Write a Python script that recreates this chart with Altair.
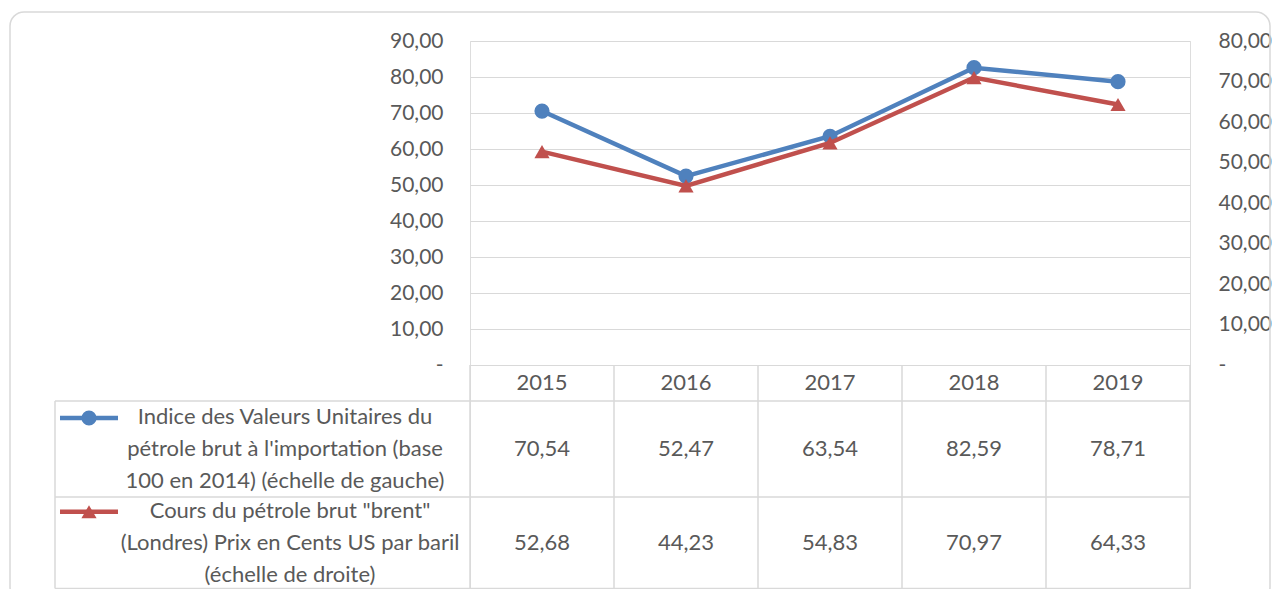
import altair as alt
import pandas as pd

# ---------------- data ----------------
years = ["2015", "2016", "2017", "2018", "2019"]
indice = [70.54, 52.47, 63.54, 82.59, 78.71]
brent = [52.68, 44.23, 54.83, 70.97, 64.33]
label_indice = ["Indice des Valeurs Unitaires du",
                "pétrole brut à l'importation (base",
                "100 en 2014) (échelle de gauche)"]
label_brent = ["Cours du pétrole brut \"brent\"",
               "(Londres) Prix en Cents US par baril",
               "(échelle de droite)"]
left_ticks = [0, 10, 20, 30, 40, 50, 60, 70, 80, 90]
right_ticks = [0, 10, 20, 30, 40, 50, 60, 70, 80]

# ---------------- style ----------------
FONT = "Lato"
FS = 22
AFS = 21
TXT = "#595959"
GRID = "#d9d9d9"
BLUE = "#4F81BD"
RED = "#C0504D"

W, H = 720, 548          # plot area (lines + data table)
ZERO = 324               # pixel row of the value 0 inside the plot
R1, R2, BOT = 360, 456, H - 0.5   # table row borders
LH = 32

fmt = lambda v: f"{v:.2f}".replace(".", ",")
df = pd.DataFrame({"year": years, "indice": indice, "brent": brent,
                   "t_indice": [fmt(v) for v in indice],
                   "t_brent": [fmt(v) for v in brent]})

xscale = alt.Scale(type="band", domain=years, paddingInner=0, paddingOuter=0)
X = alt.X("year:N", scale=xscale, axis=None, bandPosition=0.5)

left_min = -(H - ZERO) / (ZERO / 90)
right_min = -(H - ZERO) / (ZERO / 80)

lab = "datum.value == 0 ? '%s' : replace(format(datum.value, '.2f'), '.', ',')"
axstyle = dict(labelFont=FONT, labelFontSize=AFS, labelColor=TXT,
               domain=False, ticks=False, title=None)

blue = alt.Chart(df).mark_line(
    color=BLUE, strokeWidth=4.5,
    point=alt.OverlayMarkDef(color=BLUE, filled=True, size=230, opacity=1),
).encode(
    x=X,
    y=alt.Y("indice:Q",
            scale=alt.Scale(domain=[left_min, 90], nice=False, zero=False),
            axis=alt.Axis(orient="left", values=left_ticks, grid=True,
                          gridColor=GRID, gridWidth=1.2,
                          labelPadding=27,
                          labelExpr=lab % "-\u2007\u2009",
                          **axstyle)),
)

red = alt.Chart(df).mark_line(
    color=RED, strokeWidth=4.5,
    point=alt.OverlayMarkDef(color=RED, filled=True, shape="triangle-up",
                             size=230, opacity=1),
).encode(
    x=X,
    y=alt.Y("brent:Q",
            scale=alt.Scale(domain=[right_min, 80], nice=False, zero=False),
            axis=alt.Axis(orient="right", values=right_ticks, grid=False,
                          labelPadding=28, labelExpr=lab % "\u00a0-", **axstyle)),
)

# ---------------- data table ----------------
c_head = (ZERO + R1) / 2
c_r1 = (R1 + R2) / 2
c_r2 = (R2 + BOT) / 2
txt = dict(font=FONT, fontSize=FS, color=TXT, align="center", baseline="middle")
header = alt.Chart(df).mark_text(**txt).encode(x=X, y=alt.value(c_head), text="year:N")
row1 = alt.Chart(df).mark_text(**txt).encode(x=X, y=alt.value(c_r1), text="t_indice:N")
row2 = alt.Chart(df).mark_text(**txt).encode(x=X, y=alt.value(c_r2), text="t_brent:N")

lab1 = alt.Chart(df.head(1)).mark_text(lineHeight=LH, **txt).encode(
    x=alt.value(-185), y=alt.value(c_r1 - LH), text=alt.value(label_indice))
lab2 = alt.Chart(df.head(1)).mark_text(lineHeight=LH, **txt).encode(
    x=alt.value(-180), y=alt.value(c_r2 - LH), text=alt.value(label_brent))

vlines_a = alt.Chart(df).mark_rule(color=GRID, strokeWidth=1.5).encode(
    x=alt.X("year:N", scale=xscale, axis=None, bandPosition=0),
    y=alt.value(ZERO), y2=alt.value(BOT))
vlines_b = alt.Chart(df.tail(1)).mark_rule(color=GRID, strokeWidth=1.5).encode(
    x=alt.X("year:N", scale=xscale, axis=None, bandPosition=1),
    y=alt.value(ZERO), y2=alt.value(BOT))

hl = lambda yy: alt.Chart(df.head(1)).mark_rule(color=GRID, strokeWidth=1.5).encode(
    x=alt.value(-415), x2=alt.value(W), y=alt.value(yy))
hlines = [hl(R1), hl(R2), hl(BOT)]
leftline = alt.Chart(df.head(1)).mark_rule(color=GRID, strokeWidth=1.5).encode(
    x=alt.value(-415), y=alt.value(R1), y2=alt.value(BOT))

sw_blue = alt.Chart(df.head(1)).mark_rule(color=BLUE, strokeWidth=4.5).encode(
    x=alt.value(-410), x2=alt.value(-352), y=alt.value(c_r1 - LH + 1))
pt_blue = alt.Chart(df.head(1)).mark_point(color=BLUE, filled=True, size=230, opacity=1).encode(
    x=alt.value(-381), y=alt.value(c_r1 - LH + 1))
sw_red = alt.Chart(df.head(1)).mark_rule(color=RED, strokeWidth=4.5).encode(
    x=alt.value(-410), x2=alt.value(-352), y=alt.value(c_r2 - LH + 1))
pt_red = alt.Chart(df.head(1)).mark_point(color=RED, filled=True, shape="triangle-up",
                                          size=230, opacity=1).encode(
    x=alt.value(-381), y=alt.value(c_r2 - LH + 1))

frame = alt.Chart(df.head(1)).mark_rect(
    fill="transparent", stroke=GRID, strokeWidth=1.5, cornerRadius=14).encode(
    x=alt.value(-460), x2=alt.value(800), y=alt.value(-29), y2=alt.value(560))

chart = alt.layer(
    frame, vlines_a, vlines_b, *hlines, leftline,
    blue, red, header, row1, row2, lab1, lab2,
    sw_blue, pt_blue, sw_red, pt_red,
).resolve_scale(y="independent").properties(
    width=W, height=H,
    autosize=alt.AutoSizeParams(type="none"),
    padding={"left": 462, "top": 33, "right": 84, "bottom": 0},
).configure_view(stroke=None).configure(background="white")

chart.save("out.html", embed_options={"renderer": "svg", "actions": False})
